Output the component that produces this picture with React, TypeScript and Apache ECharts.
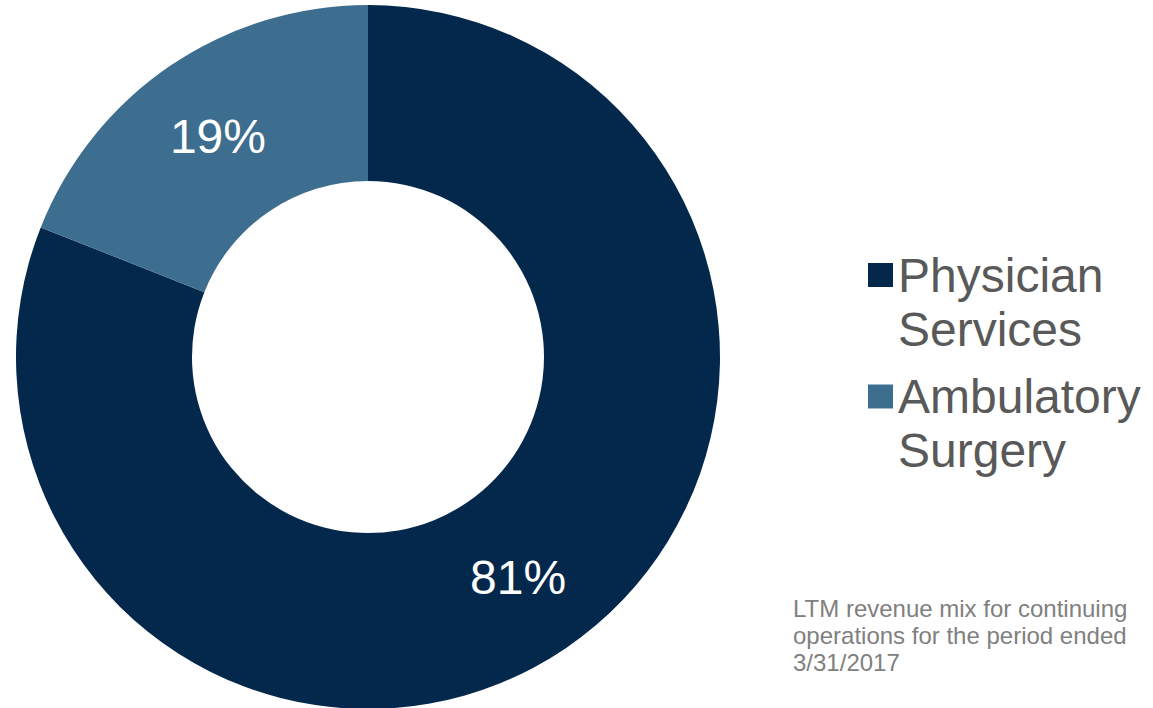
import React, { useEffect, useRef } from "react";
import * as echarts from "echarts";

const categories = ["Physician Services", "Ambulatory Surgery"];
const legendLabels = ["Physician\nServices", "Ambulatory\nSurgery"];
const shares = [81, 19];
const colors = ["#03284b", "#3e6e8f"];
const footnote = "LTM revenue mix for continuing\noperations for the period ended\n3/31/2017";

const FONT = "Arial, Liberation Sans, Helvetica, sans-serif";

export default function App() {
  const ref = useRef<HTMLDivElement>(null);
  useEffect(() => {
    if (!ref.current) return;
    const chart = echarts.init(ref.current, null, { renderer: "svg" });
    const legendMap: Record<string, string> = {};
    categories.forEach((c, i) => (legendMap[c] = legendLabels[i]));
    chart.setOption({
      animation: false,
      backgroundColor: "#ffffff",
      legend: {
        orient: "vertical",
        left: 863,
        top: 189,
        itemWidth: 25,
        itemHeight: 24,
        itemGap: -40.5,
        icon: "rect",
        selectedMode: false,
        data: categories,
        // leading blank line keeps the first text line level with the icon
        formatter: (name: string) => " \n" + (legendMap[name] || name),
        textStyle: {
          fontFamily: FONT,
          fontSize: 48,
          lineHeight: 54,
          color: "#595959",
        },
      },
      graphic: [
        {
          type: "text",
          left: 793,
          top: 595,
          style: {
            text: footnote,
            fontFamily: FONT,
            fontSize: 24,
            lineHeight: 27,
            fill: "#808080",
          },
        },
      ],
      series: [
        {
          type: "pie",
          center: [368, 357],
          radius: [176, 352],
          startAngle: 90,
          clockwise: true,
          avoidLabelOverlap: false,
          silent: true,
          label: {
            show: true,
            position: "inside",
            fontFamily: FONT,
            fontSize: 48,
            color: "#ffffff",
            formatter: (p: any) => `${p.value}%`,
          },
          labelLine: { show: false },
          itemStyle: { borderWidth: 0 },
          data: categories.map((c, i) => ({
            name: c,
            value: shares[i],
            itemStyle: { color: colors[i] },
          })),
        },
      ],
    });
    return () => chart.dispose();
  }, []);
  return (
    <div
      ref={ref}
      style={{ position: "absolute", left: 0, top: 0, width: 1153, height: 708 }}
    />
  );
}
